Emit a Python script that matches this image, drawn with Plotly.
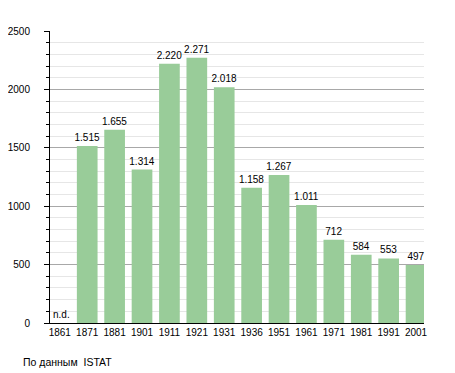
import plotly.graph_objects as go

years = ["1861", "1871", "1881", "1901", "1911", "1921", "1931", "1936",
         "1951", "1961", "1971", "1981", "1991", "2001"]
population = [None, 1515, 1655, 1314, 2220, 2271, 2018, 1158,
              1267, 1011, 712, 584, 553, 497]
y_ticks = [0, 500, 1000, 1500, 2000, 2500]
missing_label = "n.d."
source_note = "По данным  ISTAT"

FONT = "Liberation Sans, Arial, sans-serif"

fig = go.Figure()
fig.add_trace(go.Bar(
    x=years, y=population,
    marker=dict(color="#99cc99", line=dict(width=0)),
    texttemplate="%{y:,}", textposition="outside", constraintext="none",
    textfont=dict(family=FONT, size=10, color="#000000"),
    cliponaxis=False, hoverinfo="x+y",
))

fig.add_annotation(x=0, y=0, xref="paper", yref="y", text=missing_label,
                   showarrow=False, xanchor="left", yanchor="bottom",
                   xshift=1, yshift=1,
                   font=dict(family=FONT, size=10, color="#000000"))
fig.add_annotation(x=-0.0775, y=-0.1336, xref="paper", yref="paper",
                   text=source_note, showarrow=False, xanchor="left",
                   yanchor="middle",
                   font=dict(family=FONT, size=10.5, color="#000000"))

fig.update_layout(
    width=447, height=365,
    margin=dict(l=42, r=31, t=23, b=50, autoexpand=False),
    paper_bgcolor="white", plot_bgcolor="white",
    separators=",.",
    bargap=0.245,
    showlegend=False,
    font=dict(family=FONT, size=10, color="#000000"),
)
fig.update_xaxes(
    type="category", range=[-0.358, 13.29], showgrid=False, showline=True,
    linecolor="#000000", linewidth=1, ticks="", tickangle=0,
    tickfont=dict(family=FONT, size=10, color="#000000"),
    automargin=False, fixedrange=True,
)
fig.update_yaxes(
    range=[0, 2500], tickvals=y_ticks, showgrid=True, gridcolor="#a8a8a8",
    gridwidth=1, showline=True, linecolor="#000000", linewidth=1,
    ticks="outside", ticklen=5, tickcolor="#000000",
    tickfont=dict(family=FONT, size=10, color="#000000"),
    ticklabelstandoff=12, zeroline=False,
    minor=dict(dtick=100, showgrid=True, gridcolor="#e6e6e6", gridwidth=1,
               ticks="outside", ticklen=3, tickcolor="#000000"),
    automargin=False, fixedrange=True,
)

fig.write_html("out.html")
